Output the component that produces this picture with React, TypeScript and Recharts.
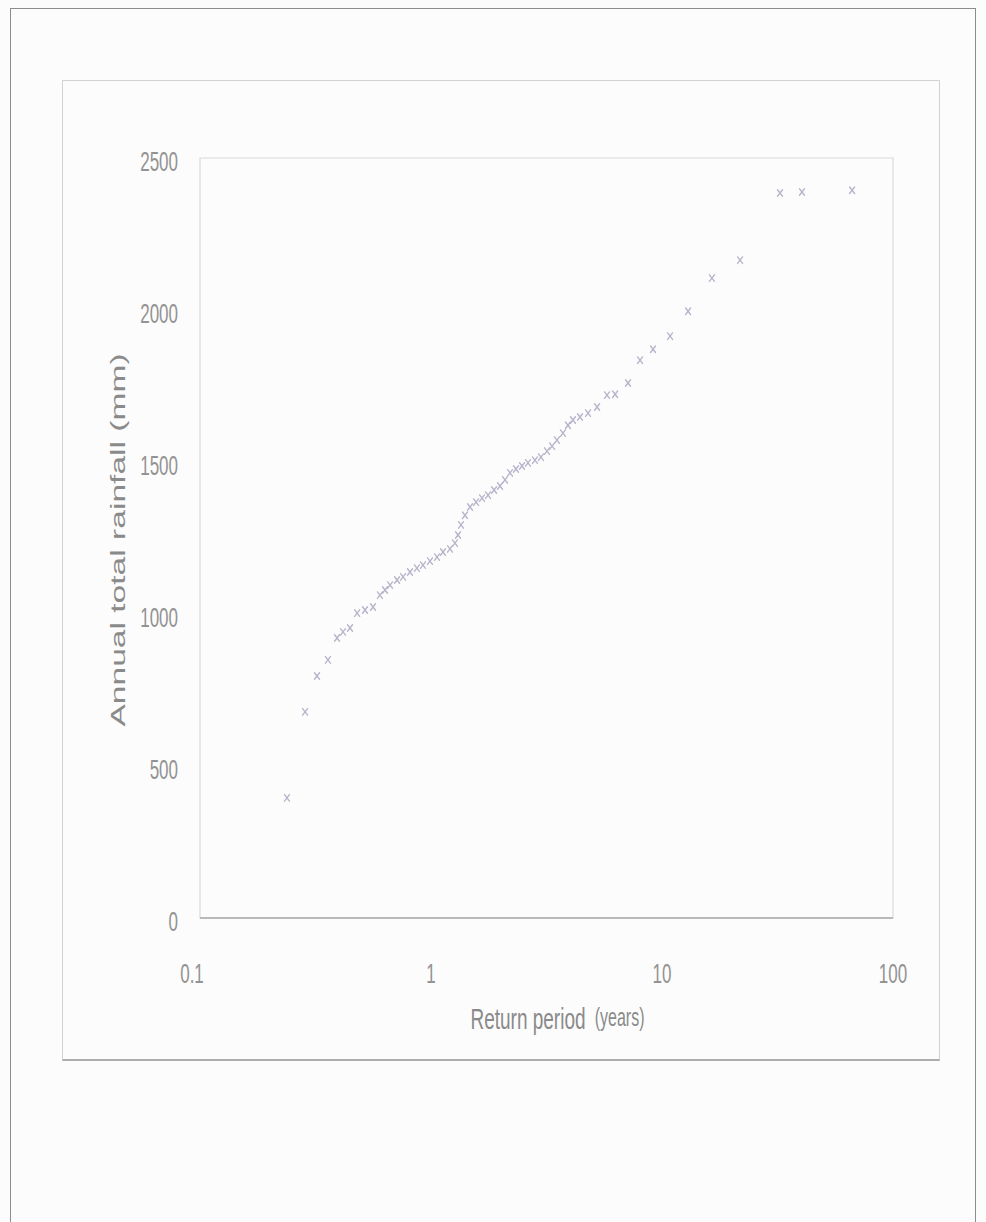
import React from 'react';
import { ScatterChart, Scatter, XAxis, YAxis, ReferenceArea } from 'recharts';

// Return period (years) of each ranked annual total
const returnPeriodYears = [
  0.238, 0.285, 0.321, 0.358, 0.392, 0.416, 0.446, 0.479, 0.518, 0.561,
  0.601, 0.632, 0.665, 0.713, 0.757, 0.811, 0.869, 0.923, 0.99, 1.062,
  1.127, 1.208, 1.27, 1.309, 1.349, 1.403, 1.476, 1.567, 1.663, 1.766,
  1.875, 1.99, 2.091, 2.198, 2.333, 2.477, 2.63, 2.818, 2.992, 3.177,
  3.342, 3.509, 3.725, 3.916, 4.117, 4.416, 4.786, 5.236, 5.781, 6.266,
  7.129, 8.035, 9.146, 10.84, 12.97, 16.45, 21.78, 32.43, 40.36, 66.53,
];

// Annual total rainfall (mm)
const annualRainfallMm = [
  395, 678, 796, 849, 921, 941, 954, 1003, 1013, 1023,
  1062, 1079, 1095, 1112, 1122, 1138, 1151, 1161, 1174, 1187,
  1204, 1214, 1233, 1260, 1293, 1325, 1352, 1368, 1381, 1391,
  1408, 1421, 1441, 1464, 1477, 1487, 1497, 1506, 1516, 1536,
  1552, 1572, 1595, 1621, 1638, 1648, 1661, 1681, 1720, 1723,
  1760, 1835, 1871, 1914, 1996, 2105, 2164, 2385, 2388, 2394,
];

const xTicks = [0.1, 1, 10, 100];
const yTicks = [0, 500, 1000, 1500, 2000, 2500];

const points = returnPeriodYears.map((t, i) => ({ t, mm: annualRainfallMm[i] }));

const FONT = '"Liberation Sans", Arial, sans-serif';
const STRETCH = 1.6;
const TICK_COLOR = '#939393';
const TITLE_COLOR = '#8a8a8a';

// Vertical stretch of text about a horizontal line at y
const stretchY = (y: number) => `translate(0 ${y}) scale(1 ${STRETCH}) translate(0 ${-y})`;

const YTick = (props: any) => {
  const { x, y, payload } = props;
  return (
    <text x={x} y={y + 3} textAnchor="end" dominantBaseline="central" fontSize={17}
      fontFamily={FONT} fill={TICK_COLOR} transform={stretchY(y + 3)}>
      {payload.value}
    </text>
  );
};

const XTick = (props: any) => {
  const { x, y, payload } = props;
  const shift = payload.value < 1 ? -8 : 0;
  return (
    <text x={x + shift} y={y} textAnchor="middle" dominantBaseline="central" fontSize={17}
      fontFamily={FONT} fill={TICK_COLOR} transform={stretchY(y)}>
      {String(payload.value)}
    </text>
  );
};

const YTitle = (props: any) => {
  const vb = props.viewBox || {};
  const cx = vb.x + 18;
  const cy = vb.y + vb.height / 2 + 2;
  return (
    <text x={0} y={0} textAnchor="middle" dominantBaseline="central" fontSize={21}
      fontFamily={FONT} fill={TITLE_COLOR}
      transform={`translate(${cx} ${cy}) scale(1 ${STRETCH}) rotate(-90)`}>
      Annual total rainfall (mm)
    </text>
  );
};

const XTitle = (props: any) => {
  const vb = props.viewBox || {};
  const cx = vb.x + vb.width / 2 + 11;
  const cy = vb.y + 100;
  return (
    <text x={cx} y={cy} textAnchor="middle" dominantBaseline="central" fontSize={19}
      fontFamily={FONT} fill={TITLE_COLOR} transform={stretchY(cy)}>
      Return period{' '}
      <tspan fontSize={16} dx={4}>(years)</tspan>
    </text>
  );
};

const CrossMarker = (props: any) => {
  const { cx, cy } = props;
  if (cx == null || cy == null) return null;
  const r = 2.5;
  return (
    <g stroke="#b9b4cb" strokeWidth={1.4} strokeLinecap="round">
      <line x1={cx - r} y1={cy - r * 1.3} x2={cx + r} y2={cy + r * 1.3} />
      <line x1={cx - r} y1={cy + r * 1.3} x2={cx + r} y2={cy - r * 1.3} />
    </g>
  );
};

export default function App() {
  return (
    <div style={{ position: 'absolute', left: 0, top: 0, width: 986, height: 1222, overflow: 'hidden', background: '#fcfcfc' }}>
      <div style={{ position: 'absolute', left: 10, top: 8, width: 966, height: 1260, border: '1.5px solid #8c8c8c', boxSizing: 'border-box' }} />
      <div style={{ position: 'absolute', left: 62, top: 80, width: 878, height: 981, border: '1px solid #d2d2d2', borderBottom: '2px solid #adadad', boxSizing: 'border-box', background: '#fcfcfc' }} />
      <div style={{ position: 'absolute', left: 0, top: 0 }}>
        <ScatterChart width={986} height={1222} margin={{ top: 158, right: 93, left: 100, bottom: 244 }}>
          <ReferenceArea x1={0.1} x2={100} y1={0} y2={2500} fill="none" stroke="#dadada" strokeWidth={1.2} />
          <XAxis dataKey="t" type="number" scale="log" domain={[0.1, 100]} ticks={xTicks}
            allowDataOverflow height={60} tickLine={false} tickSize={0} tickMargin={55}
            axisLine={{ stroke: '#a8a8a8', strokeWidth: 1.3 }} tick={<XTick />} label={<XTitle />} />
          <YAxis dataKey="mm" type="number" domain={[0, 2500]} ticks={yTicks} width={100}
            axisLine={false} tickLine={false} tickSize={0} tickMargin={22} tick={<YTick />} label={<YTitle />} />
          <Scatter data={points} isAnimationActive={false} shape={<CrossMarker />} />
        </ScatterChart>
      </div>
    </div>
  );
}
